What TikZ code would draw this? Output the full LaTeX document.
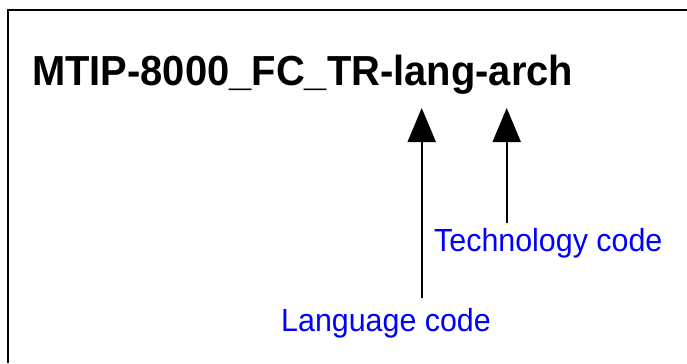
\documentclass[tikz,border=0pt]{standalone}
\usepackage{fontspec}
\setmainfont{Liberation Sans}
\newfontfamily\titlefont[FakeStretch=0.95]{Liberation Sans}
\newfontfamily\tagfont[FakeStretch=0.95]{Liberation Sans}
\usetikzlibrary{arrows.meta}
\begin{document}
\begin{tikzpicture}[x=1bp,y=1bp,line join=miter,
	pointer/.style={-{Triangle[width=28bp,length=34bp]},line width=2bp},
	codetag/.style={blue,inner sep=0,anchor=base west,font=\tagfont\fontsize{32bp}{38bp}\selectfont}]
	\useasboundingbox (0,0) rectangle (687,363);
	\draw[line width=2bp](8,0)--(8,353)--(687,353);
	\path(32,278)node[inner sep=0,anchor=base west,font=\titlefont\bfseries\fontsize{42bp}{50bp}\selectfont](name){MTIP-8000\_FC\_TR-lang-arch};
	\path(434,112)node[codetag](tech){Technology code}
	(281,32)node[codetag](lang){Language code};
	\coordinate(langtip) at (421.7,255);
	\coordinate(techtip) at (506.7,255);
	\draw[pointer,shorten <=10bp](lang.north -| langtip)--(langtip);
	\draw[pointer,shorten <=5bp](tech.north -| techtip)--(techtip);
\end{tikzpicture}
\end{document}
